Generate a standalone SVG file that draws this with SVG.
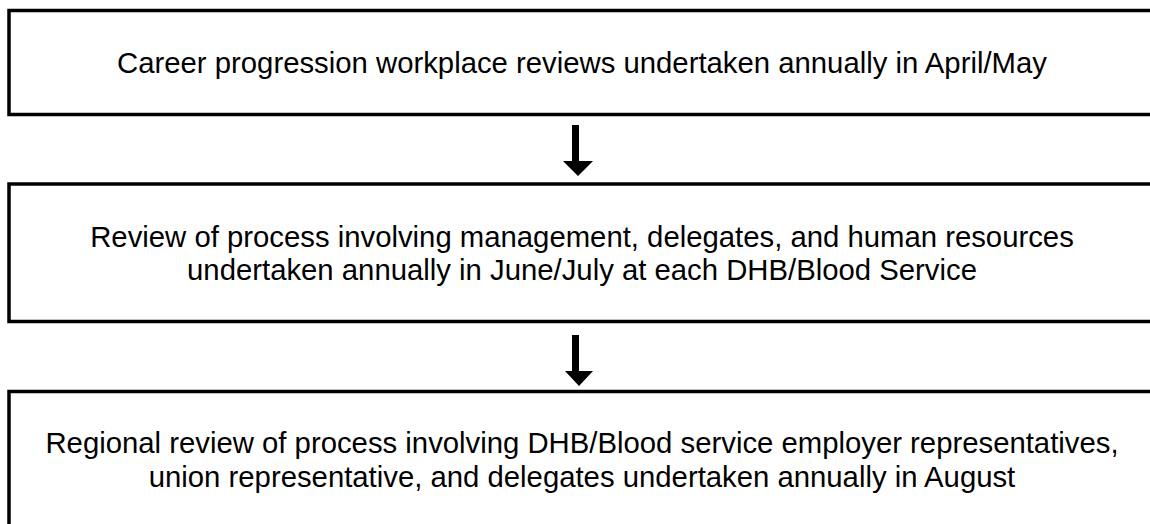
<svg xmlns="http://www.w3.org/2000/svg" width="1150" height="524" viewBox="0 0 1150 524">
<style>
.box{fill:#fff;stroke:#000;stroke-width:3.5}
.t{font-family:"Liberation Sans",Arial,sans-serif;font-size:29.3px;fill:#000;text-anchor:middle}
.arr{fill:#000}
</style>
<rect x="0" y="0" width="1150" height="524" fill="#fff"/>
<g id="node1">
<rect class="box" x="9" y="10.5" width="1160" height="104"/>
<text class="t" x="582" y="73">Career progression workplace reviews undertaken annually in April/May</text>
</g>
<g id="node2">
<rect class="box" x="9" y="184" width="1160" height="137.5"/>
<text class="t" x="582" y="247">Review of process involving management, delegates, and human resources</text>
<text class="t" x="582" y="280">undertaken annually in June/July at each DHB/Blood Service</text>
</g>
<g id="node3">
<rect class="box" x="9" y="391.5" width="1160" height="150"/>
<text class="t" x="582" y="453">Regional review of process involving DHB/Blood service employer representatives,</text>
<text class="t" x="582" y="487">union representative, and delegates undertaken annually in August</text>
</g>
<g id="connectors">
<polygon class="arr" points="572,125 579,125 579,161 593,161 578,176 563,161 572,161"/>
<polygon class="arr" points="572,335 579,335 579,371 593,371 579,386 565,371 572,371"/>
</g>
</svg>
